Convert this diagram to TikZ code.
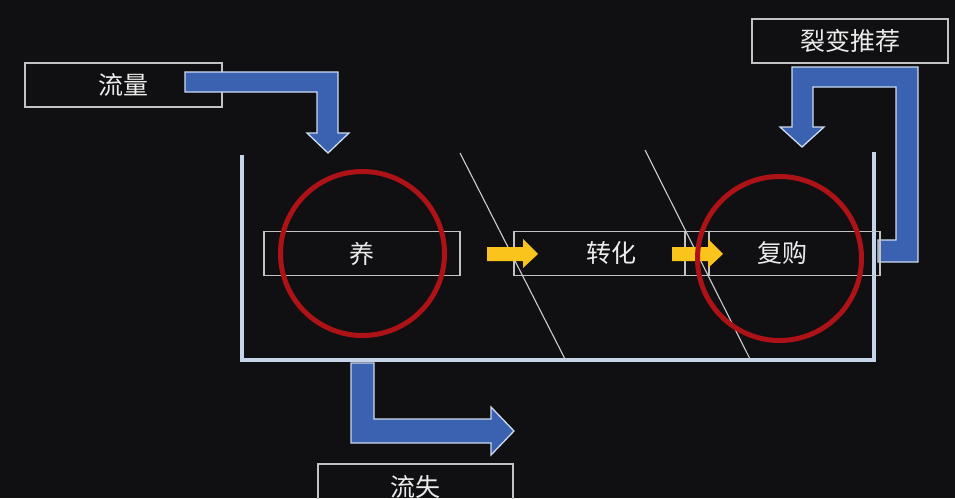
\documentclass[tikz,border=0pt]{standalone}
\usepackage{fontspec}
\newfontfamily\cjk{Noto Sans CJK SC}
\definecolor{bgc}{RGB}{16,16,18}
\definecolor{boxline}{RGB}{195,195,195}
\definecolor{txt}{RGB}{235,235,235}
\definecolor{blockblue}{RGB}{58,98,176}
\definecolor{blockedge}{RGB}{205,218,240}
\definecolor{tank}{RGB}{198,212,234}
\definecolor{ringred}{RGB}{172,18,22}
\definecolor{gold}{RGB}{250,196,28}
\definecolor{thinline}{RGB}{205,205,205}
\tikzset{
  labelbox/.style={draw=boxline, line width=1.3pt, minimum width=196pt, minimum height=44pt,
    inner sep=0pt, text=txt, font=\cjk\fontsize{25}{25}\selectfont},
  blockarrow/.style={fill=blockblue, draw=blockedge, line width=1.3pt, line join=miter},
  goldarrow/.style={fill=gold, draw=none},
  ring/.style={draw=ringred, line width=5pt},
  tankline/.style={draw=tank, line width=4pt},
  slash/.style={draw=thinline, line width=1.1pt}
}
\begin{document}
\begin{tikzpicture}[x=1pt,y=-1pt]
\fill[bgc] (0,0) rectangle (955,498);
\useasboundingbox (0,0) rectangle (955,498);
\clip (0,0) rectangle (955,498);

% top label boxes
\node[labelbox, minimum width=197pt] (liuliang) at (123.5,85) {流量};
\node[labelbox, minimum width=196pt] (liebian) at (850,41) {裂变推荐};
\node[labelbox, minimum width=195pt, minimum height=46pt] (liushi) at (415.5,487) {流失};

% blue block arrows
\draw[blockarrow] (185,72) -- (338,72) -- (338,133) -- (349,133) -- (328,153) -- (307,133) -- (317,133) -- (317,92) -- (185,92) -- cycle;
\draw[blockarrow] (878,240) -- (896,240) -- (896,87) -- (813,87) -- (813,127) -- (824,127) -- (802,147) -- (780,127) -- (792,127) -- (792,67) -- (918,67) -- (918,262) -- (878,262) -- cycle;
\draw[blockarrow] (351,363) -- (374,363) -- (374,419) -- (491,419) -- (491,407) -- (514,431) -- (491,455) -- (491,443) -- (351,443) -- cycle;

% tank
\coordinate (tl) at (242,155);
\coordinate (bl) at (242,360);
\coordinate (br) at (874,360);
\coordinate (tr) at (874,152);
\draw[tankline, line join=miter] (tl) -- (bl) -- (br) -- (tr);

% diagonal dividers
\coordinate (d1a) at (460,153);
\coordinate (d1b) at (565,359);
\coordinate (d2a) at (645,150);
\coordinate (d2b) at (750,359);
\draw[slash] (d1a) -- (d1b);
\draw[slash] (d2a) -- (d2b);

% stage boxes
\node[labelbox] (yang) at (362,253.5) {养};
\node[labelbox, minimum width=195pt] (zhuanhua) at (611.5,253.5) {转化};
\node[labelbox, minimum width=195pt] (fugou) at (782.5,253.5) {复购};

% gold arrows
\fill[goldarrow] (487,247) -- (523,247) -- (523,239) -- (538,254) -- (523,268) -- (523,261) -- (487,261) -- cycle;
\fill[goldarrow] (672,247) -- (708,247) -- (708,239) -- (723,254) -- (708,268) -- (708,261) -- (672,261) -- cycle;

% red rings
\draw[ring] (362.5,253.5) circle (82pt);
\draw[ring] (779.5,258.5) circle (82pt);
\end{tikzpicture}
\end{document}
